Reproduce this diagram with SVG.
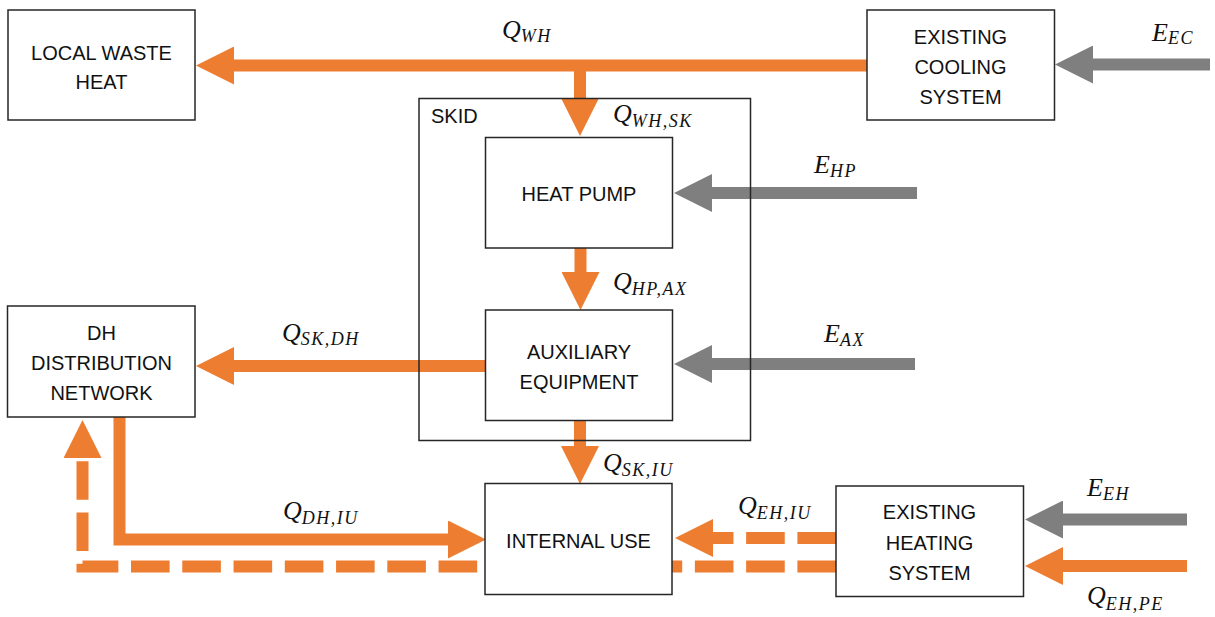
<svg xmlns="http://www.w3.org/2000/svg" width="1215" height="617" viewBox="0 0 1215 617">
<defs>
<style>
.box{fill:#fff;stroke:#262626;stroke-width:1.5}
.frame{fill:none;stroke:#262626;stroke-width:1.5}
.t{font-family:"Liberation Sans",Arial,sans-serif;font-size:20px;fill:#111;text-anchor:middle}
.tl{font-family:"Liberation Sans",Arial,sans-serif;font-size:20px;fill:#111}
.m{font-family:"Liberation Serif","Times New Roman",serif;font-style:italic;font-size:26px;fill:#111}
.s{font-size:18px;letter-spacing:1.5px}
.or{fill:none;stroke:#ed7d31;stroke-width:12}
.gr{fill:none;stroke:#7f7f7f;stroke-width:12}
.dash{stroke-dasharray:38.6 12.66}
</style>
<marker id="ho" markerUnits="userSpaceOnUse" viewBox="0 0 38 38" markerWidth="38" markerHeight="38" refX="0" refY="19" orient="auto"><path d="M0,0 L38,19 L0,38 z" fill="#ed7d31"/></marker>
<marker id="hg" markerUnits="userSpaceOnUse" viewBox="0 0 38 38" markerWidth="38" markerHeight="38" refX="0" refY="19" orient="auto"><path d="M0,0 L38,19 L0,38 z" fill="#7f7f7f"/></marker>
</defs>
<rect width="1215" height="617" fill="#fff"/>

<g id="connectors">
<path class="or" d="M867,65.5 H234" marker-end="url(#ho)"/>
<path class="or" d="M580,65.5 V98" marker-end="url(#ho)"/>
<path class="gr" d="M1210,64.5 H1093" marker-end="url(#hg)"/>
<path class="gr" d="M917,193 H712" marker-end="url(#hg)"/>
<path class="or" d="M580.5,248 V272" marker-end="url(#ho)"/>
<path class="gr" d="M915,364 H712" marker-end="url(#hg)"/>
<path class="or" d="M485,366 H234" marker-end="url(#ho)"/>
<path class="or" d="M580,420 V446" marker-end="url(#ho)"/>
<path class="or" d="M119.5,413 V539.5 H448" stroke-linejoin="miter" marker-end="url(#ho)"/>
<path class="or dash" d="M836,566.5 H82.5 V458" stroke-linejoin="miter" marker-end="url(#ho)"/>
<path class="or dash" d="M836,538 H713" marker-end="url(#ho)"/>
<path class="gr" d="M1187,519.5 H1063" marker-end="url(#hg)"/>
<path class="or" d="M1187,566 H1063" marker-end="url(#ho)"/>
</g>

<g id="skid">
<rect class="frame" x="419" y="98.5" width="331.5" height="342"/>
<text class="tl" x="431" y="123">SKID</text>
</g>

<g id="local-waste-heat">
<rect class="box" x="8" y="10" width="187" height="110"/>
<text class="t" x="101.5" y="60">LOCAL WASTE</text>
<text class="t" x="101.5" y="89">HEAT</text>
</g>

<g id="existing-cooling-system">
<rect class="box" x="867" y="10" width="187.5" height="110"/>
<text class="t" x="960.5" y="43.5">EXISTING</text>
<text class="t" x="960.5" y="73.5">COOLING</text>
<text class="t" x="960.5" y="103.5">SYSTEM</text>
</g>

<g id="heat-pump">
<rect class="box" x="485.5" y="137.5" width="187" height="110.5"/>
<text class="t" x="579" y="201">HEAT PUMP</text>
</g>

<g id="auxiliary-equipment">
<rect class="box" x="485.5" y="310" width="187" height="110.5"/>
<text class="t" x="579" y="359">AUXILIARY</text>
<text class="t" x="579" y="389">EQUIPMENT</text>
</g>

<g id="dh-distribution-network">
<rect class="box" x="7.5" y="306" width="187.5" height="111"/>
<text class="t" x="101.5" y="340">DH</text>
<text class="t" x="101.5" y="370">DISTRIBUTION</text>
<text class="t" x="101.5" y="400">NETWORK</text>
</g>

<g id="internal-use">
<rect class="box" x="485" y="483.5" width="187" height="111"/>
<text class="t" x="578.5" y="548">INTERNAL USE</text>
</g>

<g id="existing-heating-system">
<rect class="box" x="836" y="486" width="187.5" height="110.5"/>
<text class="t" x="929.5" y="519">EXISTING</text>
<text class="t" x="929.5" y="550">HEATING</text>
<text class="t" x="929.5" y="580">SYSTEM</text>
</g>

<g id="labels">
<text class="m" x="502" y="38">Q<tspan class="s" dy="4">WH</tspan></text>
<text class="m" x="1152" y="41">E<tspan class="s" dy="3">EC</tspan></text>
<text class="m" x="613" y="122">Q<tspan class="s" dy="5">WH,SK</tspan></text>
<text class="m" x="814" y="173">E<tspan class="s" dy="4">HP</tspan></text>
<text class="m" x="613" y="290">Q<tspan class="s" dy="5">HP,AX</tspan></text>
<text class="m" x="282" y="341">Q<tspan class="s" dy="4">SK,DH</tspan></text>
<text class="m" x="824" y="342">E<tspan class="s" dy="4">AX</tspan></text>
<text class="m" x="603" y="471">Q<tspan class="s" dy="5">SK,IU</tspan></text>
<text class="m" x="283" y="519">Q<tspan class="s" dy="5">DH,IU</tspan></text>
<text class="m" x="738" y="514">Q<tspan class="s" dy="5">EH,IU</tspan></text>
<text class="m" x="1087" y="496">E<tspan class="s" dy="4">EH</tspan></text>
<text class="m" x="1087" y="604">Q<tspan class="s" dy="6">EH,PE</tspan></text>
</g>
</svg>
